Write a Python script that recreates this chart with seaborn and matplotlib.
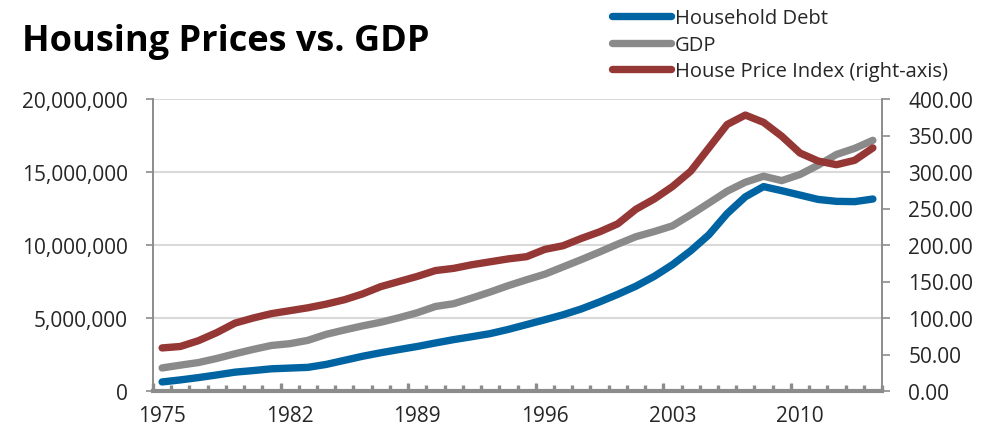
import numpy as np
import pandas as pd
import matplotlib
matplotlib.use('Agg')
import matplotlib.pyplot as plt
import seaborn as sns
from matplotlib.ticker import FuncFormatter

# data
years = list(range(1975, 2015))
household_debt = [0.62, 0.76, 0.92, 1.10, 1.29, 1.40, 1.52, 1.57, 1.62, 1.82,
                  2.10, 2.38, 2.62, 2.84, 3.05, 3.29, 3.52, 3.72, 3.93, 4.22,
                  4.55, 4.88, 5.22, 5.62, 6.10, 6.62, 7.18, 7.85, 8.65, 9.60,
                  10.70, 12.15, 13.30, 14.00, 13.72, 13.42, 13.12, 12.99, 12.97, 13.15]
gdp = [1.58, 1.77, 1.95, 2.23, 2.55, 2.85, 3.12, 3.24, 3.47, 3.88,
       4.18, 4.46, 4.71, 5.02, 5.36, 5.79, 5.98, 6.37, 6.78, 7.22,
       7.62, 8.00, 8.50, 9.00, 9.52, 10.06, 10.57, 10.92, 11.31, 12.07,
       12.87, 13.68, 14.30, 14.71, 14.41, 14.83, 15.47, 16.20, 16.62, 17.17]
hpi = [59, 61, 69, 80, 93, 100, 106, 110, 114, 119,
       125, 133, 143, 150, 157, 165, 168, 173, 177, 181,
       184, 194, 199, 209, 218, 229, 249, 263, 280, 301,
       333, 365, 378, 368, 349, 326, 315, 310, 316, 333]

label_years = [1975, 1982, 1989, 1996, 2003, 2010]
left_ticks = [0, 5000000, 10000000, 15000000, 20000000]
right_ticks = [0, 50, 100, 150, 200, 250, 300, 350, 400]

df = pd.DataFrame({'Year': years,
                   'Household Debt': np.array(household_debt) * 1e6,
                   'GDP': np.array(gdp) * 1e6,
                   'HPI': hpi})

blue = '#0064A3'
grey = '#8A8A8A'
red = '#953735'
axis_grey = '#8C8C8C'

sns.set_style('white')
plt.rcParams['font.family'] = ['Open Sans', 'DejaVu Sans']

fig = plt.figure(figsize=(9.9, 4.39), dpi=100)
ax = fig.add_axes([153 / 990, 1 - 392 / 439, (882 - 153) / 990, (392 - 100) / 439])
ax2 = ax.twinx()

lw = 5.3
sns.lineplot(data=df, x='Year', y='Household Debt', ax=ax, color=blue, lw=lw,
             solid_capstyle='round', label='Household Debt', legend=False)
sns.lineplot(data=df, x='Year', y='GDP', ax=ax, color=grey, lw=lw,
             solid_capstyle='round', label='GDP', legend=False)
sns.lineplot(data=df, x='Year', y='HPI', ax=ax2, color=red, lw=lw,
             solid_capstyle='round', label='House Price Index (right-axis)', legend=False)

# left axis
ax.set_ylim(0, 20000000)
ax.set_yticks(left_ticks)
ax.yaxis.set_major_formatter(FuncFormatter(lambda v, p: f'{int(v):,}'))
ax.grid(axis='y', color='#D9D9D9', lw=1.5)
ax.set_axisbelow(True)
ax.set_xlabel('')
ax.set_ylabel('')
ax.tick_params(axis='y', direction='out', length=5, width=1.2, color=axis_grey,
               labelsize=15, pad=13, left=True)

# right axis
ax2.set_ylim(0, 400)
ax2.set_yticks(right_ticks)
ax2.yaxis.set_major_formatter(FuncFormatter(lambda v, p: f'{v:.2f}'))
ax2.set_ylabel('')
ax2.tick_params(axis='y', direction='out', length=6, width=1.2, color=axis_grey,
                labelsize=15, pad=13, right=True)
ax2.grid(False)

# category style x axis: boundary ticks inside, labels at category centres
ax.set_xlim(1974.5, 2014.5)
ax.set_xticks(np.arange(1974.5, 2015, 7))
ax.set_xticks(np.arange(1974.5, 2015, 1), minor=True)
ax.tick_params(axis='x', which='major', direction='in', length=6, width=2.4,
               color=axis_grey, labelbottom=False, bottom=True)
ax.tick_params(axis='x', which='minor', direction='in', length=4.2, width=2.4,
               color=axis_grey, bottom=True)
sec = ax.secondary_xaxis('bottom')
sec.set_xticks(label_years)
sec.tick_params(length=0, labelsize=15, pad=10)
sec.spines['bottom'].set_visible(False)

for a in (ax, ax2):
    a.spines['top'].set_visible(False)
    for s in ('left', 'right'):
        a.spines[s].set_color(axis_grey)
        a.spines[s].set_linewidth(1.2)
ax.spines['bottom'].set_color(axis_grey)
ax.spines['bottom'].set_linewidth(3)
ax2.spines['bottom'].set_visible(False)

fig.text(22 / 990, 1 - 42 / 439, 'Housing Prices vs. GDP', fontsize=26,
         fontweight='bold', va='center', ha='left', color='black')

h1, l1 = ax.get_legend_handles_labels()
h2, l2 = ax2.get_legend_handles_labels()
leg = fig.legend(h1 + h2, l1 + l2, loc='upper left', bbox_to_anchor=(600 / 990, 1.007),
                 frameon=False, fontsize=14.5, handlelength=2.95, handletextpad=0.15,
                 labelspacing=0.33, borderaxespad=0.2)

fig.savefig('out.png', dpi=100)
